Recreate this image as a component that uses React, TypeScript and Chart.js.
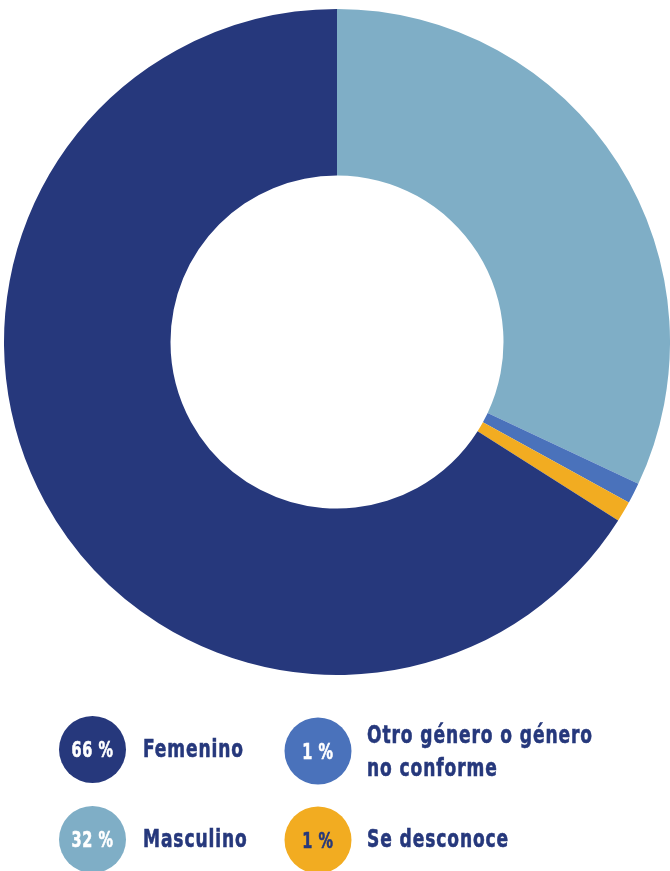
import React, { useEffect, useRef } from "react";
import { Chart, registerables } from "chart.js";

Chart.register(...registerables);

const categories = ["Masculino", "Otro género o género no conforme", "Se desconoce", "Femenino"];
const values = [32, 1, 1, 66];
const colors = ["#7FAEC6", "#4A72BB", "#F2AC21", "#26387C"];

// legend entries: percentage label, text lines, colour
const legendPct = ["66 %", "1 %", "32 %", "1 %"];
const legendText = [["Femenino"], ["Otro género o género", "no conforme"], ["Masculino"], ["Se desconoce"]];
const legendColors = ["#26387C", "#4A72BB", "#7FAEC6", "#F2AC21"];

const FONT = '"Liberation Sans Narrow", "DejaVu Sans Condensed", "Roboto Condensed", sans-serif';
const TEXT_COLOR = "#26387C";

const legendPlugin = {
  id: "customLegend",
  afterDraw(chart: any) {
    const ctx: any = chart.ctx;
    const slots = [
      { cx: 92.5, cy: 749.5, lx: 143, by: 757 },
      { cx: 318, cy: 751, lx: 367, by: 743 },
      { cx: 92.5, cy: 839.5, lx: 143, by: 847 },
      { cx: 318, cy: 840, lx: 367, by: 847 },
    ];
    ctx.save();
    const setPct = () => {
      ctx.font = `bold 22px ${FONT}`;
      ctx.letterSpacing = "0.8px";
    };
    const setLbl = () => {
      ctx.font = `bold 25px ${FONT}`;
      ctx.letterSpacing = "1.2px";
    };
    setPct();
    const pctScale = 42 / ctx.measureText("66 %").width;
    setLbl();
    const lblScale = 101 / ctx.measureText("Femenino").width;
    const draw = (text: string, x: number, y: number, sx: number, color: string) => {
      ctx.save();
      ctx.translate(x, y);
      ctx.scale(sx, 1);
      ctx.fillStyle = color;
      ctx.strokeStyle = color;
      ctx.lineWidth = 0.6;
      ctx.fillText(text, 0, 0);
      ctx.strokeText(text, 0, 0);
      ctx.restore();
    };
    slots.forEach((s, i) => {
      ctx.fillStyle = legendColors[i];
      ctx.beginPath();
      ctx.arc(s.cx, s.cy, 33.5, 0, Math.PI * 2);
      ctx.fill();
      setPct();
      ctx.textAlign = "center";
      ctx.textBaseline = "alphabetic";
      draw(legendPct[i], s.cx, s.cy + 7.5, pctScale, i === 3 ? TEXT_COLOR : "#FFFFFF");
      setLbl();
      ctx.textAlign = "left";
      legendText[i].forEach((line, j) => draw(line, s.lx, s.by + j * 33, lblScale, TEXT_COLOR));
    });
    ctx.restore();
  },
};

export default function App() {
  const ref = useRef<HTMLCanvasElement>(null);
  useEffect(() => {
    document.body.style.margin = "0";
    const chart = new Chart(ref.current!, {
      type: "doughnut",
      data: {
        labels: categories,
        datasets: [{ data: values, backgroundColor: colors, borderWidth: 0 }],
      },
      options: {
        animation: false,
        responsive: true,
        maintainAspectRatio: false,
        cutout: "50%",
        layout: { padding: { left: 4, right: 0, top: 9, bottom: 196 } },
        plugins: { legend: { display: false }, tooltip: { enabled: false } },
      },
      plugins: [legendPlugin],
    });
    return () => chart.destroy();
  }, []);

  return (
    <div style={{ position: "fixed", left: 0, top: 0, width: 670, height: 871, background: "#fff", overflow: "hidden" }}>
      <canvas ref={ref} />
    </div>
  );
}
